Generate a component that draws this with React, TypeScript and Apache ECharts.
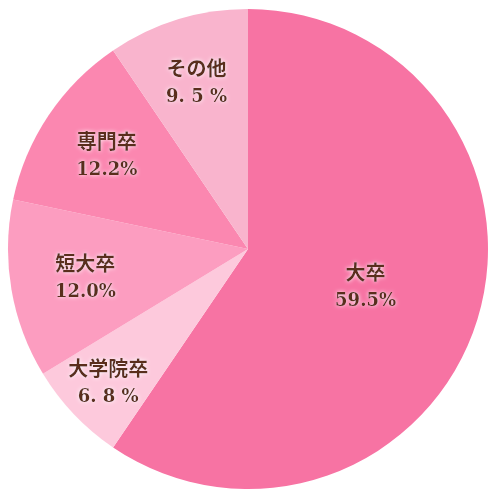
import React, { useEffect, useRef } from "react";
import * as echarts from "echarts";

const categories = ["大卒", "大学院卒", "短大卒", "専門卒", "その他"];
const values = [59.5, 6.8, 12.0, 12.2, 9.5];
const valueTexts = ["59.5%", "6. 8 %", "12.0%", "12.2%", "9. 5 %"];
const colors = ["#f773a3", "#fdc9dc", "#fc9dc0", "#fb87b0", "#f9b4cd"];
const labelExtra = [0, 70, 42, 47, 52];

export default function App() {
  const ref = useRef<HTMLDivElement>(null);
  useEffect(() => {
    if (!ref.current) return;
    const chart = echarts.init(ref.current, undefined, { renderer: "svg" });
    const total = values.reduce((a, b) => a + b, 0);
    const mids: number[] = [];
    let acc = 0;
    values.forEach((v) => {
      mids.push(((acc + v / 2) / total) * Math.PI * 2);
      acc += v;
    });
    const textBase = {
      color: "#5a2e1e",
      fontWeight: "bold",
      textShadowColor: "#ffffff",
      textShadowBlur: 4,
    };
    chart.setOption({
      animation: false,
      series: [
        {
          type: "pie",
          center: [248, 249],
          radius: [0, 240],
          startAngle: 90,
          clockwise: true,
          itemStyle: { borderWidth: 0 },
          label: {
            show: true,
            position: "inside",
            formatter: (p: any) =>
              `{c|${categories[p.dataIndex]}}\n{v|${valueTexts[p.dataIndex]}}`,
            ...textBase,
            rich: {
              c: {
                ...textBase,
                fontFamily: "'Noto Sans CJK JP', serif",
                fontSize: 20,
                lineHeight: 28,
              },
              v: {
                ...textBase,
                fontFamily: "'DejaVu Serif', serif",
                fontSize: 18,
                lineHeight: 28,
              },
            },
          },
          labelLine: { show: false },
          labelLayout: (params: any) => {
            const i = params.dataIndex;
            const a = mids[i];
            return { dx: Math.sin(a) * labelExtra[i], dy: -Math.cos(a) * labelExtra[i] };
          },
          data: categories.map((c, i) => ({
            name: c,
            value: values[i],
            itemStyle: { color: colors[i] },
          })),
        },
      ],
    });
    return () => chart.dispose();
  }, []);
  return (
    <div
      ref={ref}
      style={{ position: "absolute", left: 0, top: 0, width: 500, height: 500 }}
    />
  );
}
